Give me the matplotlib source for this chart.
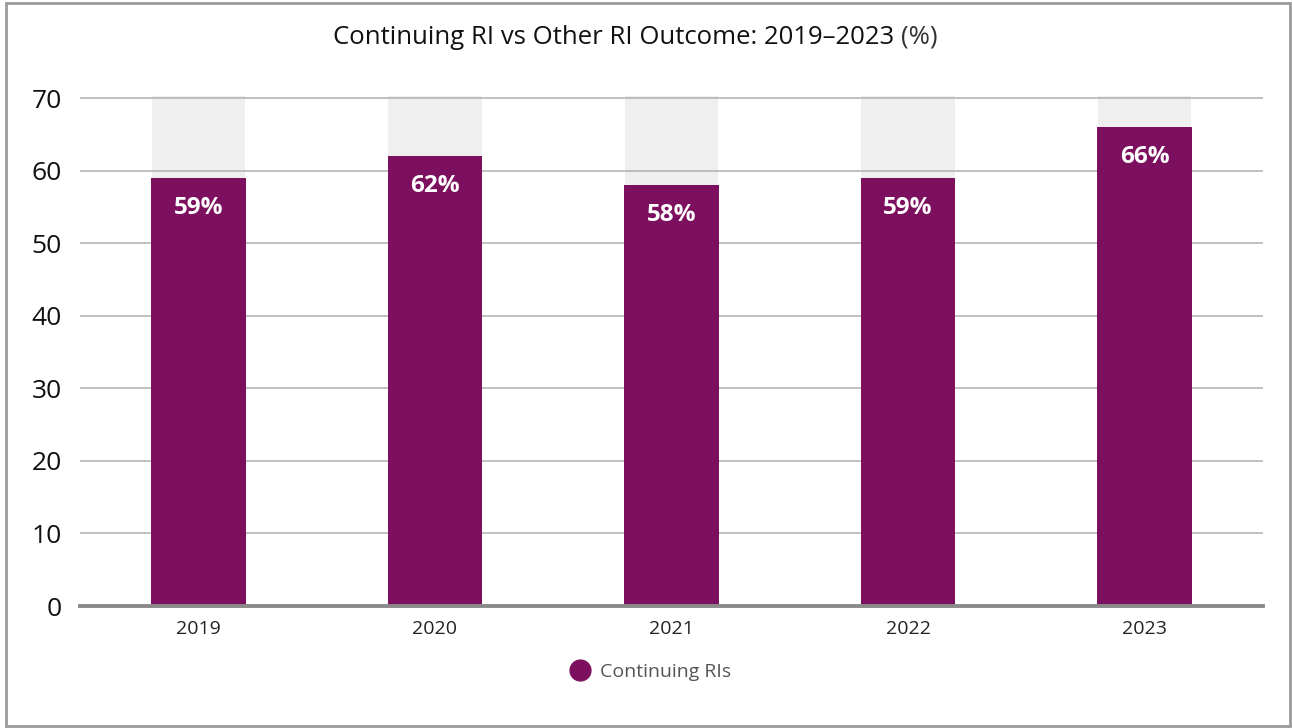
import matplotlib
matplotlib.use("Agg")
import matplotlib.pyplot as plt
from matplotlib.patches import Rectangle
from matplotlib.lines import Line2D

years = ["2019", "2020", "2021", "2022", "2023"]
continuing = [59, 62, 58, 59, 66]
other = [100 - v for v in continuing]
y_ticks = [0, 10, 20, 30, 40, 50, 60, 70]

purple = "#7d0f5f"
light = "#efefef"

plt.rcParams["font.family"] = ["Open Sans", "DejaVu Sans"]

W, H = 1292, 728
fig = plt.figure(figsize=(W / 100, H / 100), dpi=100)
fig.patch.set_facecolor("white")

# outer frame
fig.add_artist(Rectangle((6 / W, 2 / H), (1290 - 6) / W, (725 - 2) / H,
                         transform=fig.transFigure, fill=False,
                         edgecolor="#9a9a9a", linewidth=2))

ax = fig.add_axes([80 / W, (H - 606) / H, (1263 - 80) / W, (606 - 96) / H])
x = list(range(len(years)))
ax.set_xlim(-0.5, len(years) - 0.5)
ax.set_ylim(0, 70.28)

ax.bar(x, other, bottom=continuing, width=0.395, color=light, zorder=1)
for t in y_ticks[1:]:
    ax.axhline(t, color="#b5b5b5", linewidth=1.2, zorder=1.5)
bars = ax.bar(x, continuing, width=0.40, color=purple, zorder=2)
ax.axhline(0, color="#8a8a8a", linewidth=2.8, zorder=3, clip_on=False)

for xi, v in zip(x, continuing):
    ax.text(xi, v - 4.1, f"{v}%", ha="center", va="center", color="white",
            fontsize=17.5, fontweight="bold", zorder=4)

for s in ax.spines.values():
    s.set_visible(False)
ax.set_yticks(y_ticks)
ax.set_yticklabels([str(t) for t in y_ticks], fontsize=19, color="#111111",
                   fontweight="medium")
ax.tick_params(axis="y", length=0, pad=13)
ax.set_xticks(x)
ax.set_xticklabels(years, fontsize=14, color="#222222")
ax.tick_params(axis="x", length=0, pad=10)

title_y = (H - 37) / H
t1 = fig.text(0.5, title_y, "Continuing RI vs Other RI Outcome: 2019–2023 ",
              ha="right", va="center", fontsize=18.5, fontweight="medium",
              color="#111111")
t2 = fig.text(0.5, title_y, "(%)", ha="left", va="center", fontsize=18.5,
              fontweight="normal", color="#333333")
# centre the two-part title as one line
fig.canvas.draw()
r = fig.canvas.get_renderer()
w1 = t1.get_window_extent(r).width
w2 = t2.get_window_extent(r).width
shift = (w1 - w2) / 2 / W - 11 / W
t1.set_x(0.5 + shift)
t2.set_x(0.5 + shift)

handle = Line2D([], [], marker="o", linestyle="", markersize=15,
                markerfacecolor=purple, markeredgecolor=purple)
fig.legend([handle], ["Continuing RIs"], loc="center",
           bbox_to_anchor=(0.5, (H - 672) / H), frameon=False,
           fontsize=14, labelcolor="#555555", handletextpad=0.0)

fig.savefig("out.png", dpi=100, facecolor="white")
